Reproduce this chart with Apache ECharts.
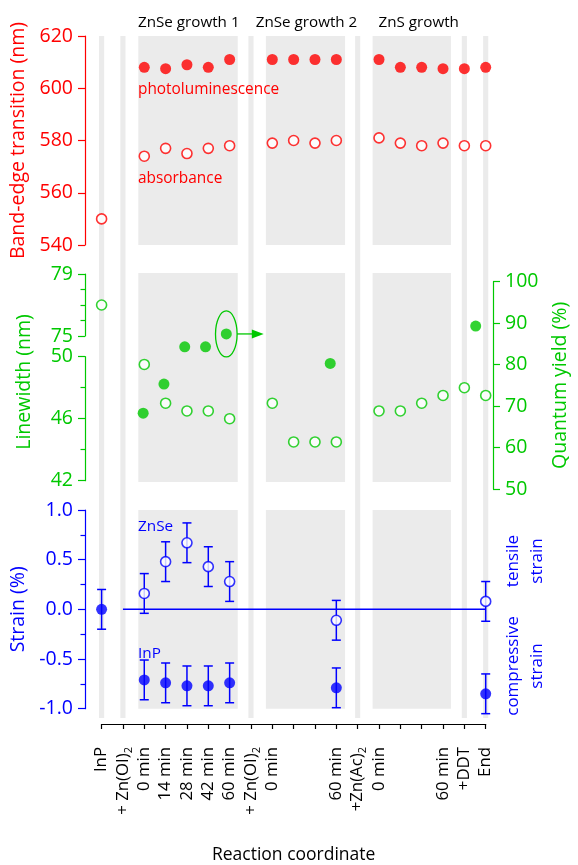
<!DOCTYPE html>
<html>
<head>
<meta charset="utf-8">
<script src="https://cdn.jsdelivr.net/npm/echarts@6/dist/echarts.min.js"></script>
<style>html,body{margin:0;padding:0;background:#fff}#c{width:578px;height:865px}</style>
</head>
<body>
<div id="c"></div>
<script>
// ---------- data ----------
const xLabels = ['InP', '+ Zn(OI){s|2}', '0 min', '14 min', '28 min', '42 min', '60 min', '+ Zn(OI){s|2}', '0 min', '', '', '60 min', '+Zn(Ac){s|2}', '0 min', '', '', '60 min', '+DDT', 'End'];
const separatorX = [0, 1, 7, 12, 17, 18];
const panelRanges = [[1.72, 6.38], [7.70, 11.41], [12.70, 16.37]];
const headers = ['ZnSe growth 1', 'ZnSe growth 2', 'ZnS growth'];

const plX = [2, 3, 4, 5, 6, 8, 9, 10, 11, 13, 14, 15, 16, 17, 18];
const plValues = [608, 607.5, 609, 608, 611, 611, 611, 611, 611, 611, 608, 608, 607.5, 607.5, 608];
const absX = [0, 2, 3, 4, 5, 6, 8, 9, 10, 11, 13, 14, 15, 16, 17, 18];
const absValues = [550, 574, 577, 575, 577, 578, 579, 580, 579, 580, 581, 579, 578, 579, 578, 578];

const lwX = [0, 2, 3, 4, 5, 6, 8, 9, 10, 11, 13, 14, 15, 16, 17, 18];
const lwValues = [77, 49.5, 47, 46.5, 46.5, 46, 47, 44.5, 44.5, 44.5, 46.5, 46.5, 47, 47.5, 48, 47.5];
const qyX = [2, 3, 4, 5, 6, 11, 18];
const qyValues = [68.3, 75.3, 84.3, 84.3, 87.4, 80.3, 89.3];
const qyHighlightIndex = 4;

const znseStrainX = [2, 3, 4, 5, 6, 11, 18];
const znseStrain = [0.16, 0.48, 0.67, 0.43, 0.28, -0.11, 0.08];
const inpStrainX = [0, 2, 3, 4, 5, 6, 11, 18];
const inpStrain = [0, -0.71, -0.74, -0.77, -0.77, -0.74, -0.79, -0.85];
const strainError = 0.2;
const zeroLineX = [1, 18];

// ---------- style ----------
const FONT = '"Open Sans", "Noto Sans", sans-serif';
const RED = '#ff0000', GREEN = '#00c800', BLUE = '#0000ff', GRAY = '#ebebeb';
const GL = 101.6, GR = 578 - 485.7;
const AX_OFF_L = GL - 85, AX_OFF_R = 503 - 485.7;
const TICK_FS = 19.5;

const zip = (xs, ys) => xs.map((x, i) => [x, ys[i]]);

const grids = [
  {top: 36, height: 682},     // 0 background separators
  {top: 36, height: 209},     // 1 band-edge
  {top: 274, height: 62},     // 2 linewidth upper
  {top: 356.7, height: 124},  // 3 linewidth lower
  {top: 281.7, height: 207.3},// 4 quantum yield
  {top: 273, height: 209},    // 5 middle background
  {top: 510, height: 208}     // 6 strain
].map(g => Object.assign({left: GL, right: GR, containLabel: false}, g));

const xAxes = grids.map((g, i) => ({
  type: 'value', gridIndex: i, min: 0, max: 18, interval: 1, show: i === 6,
  position: 'bottom', offset: i === 6 ? 15.3 : 0,
  axisLine: {show: true, onZero: false, lineStyle: {color: '#000', width: 1.2}},
  axisTick: {show: true, length: 5, lineStyle: {color: '#000', width: 1.2}},
  splitLine: {show: false},
  axisLabel: {
    show: true, rotate: 90, margin: 23, fontFamily: FONT, fontSize: 16.8, color: '#000',
    formatter: v => xLabels[Math.round(v)] || '',
    rich: {s: {fontFamily: FONT, fontSize: 11, color: '#000', verticalAlign: 'bottom', lineHeight: 22}}
  },
  name: i === 6 ? 'Reaction coordinate' : '', nameLocation: 'middle', nameGap: 122,
  nameTextStyle: {fontFamily: FONT, fontSize: 17.5, color: '#000'}
}));

function yAx(gi, opts, color) {
  return Object.assign({
    type: 'value', gridIndex: gi, position: 'left', offset: AX_OFF_L,
    axisLine: {show: true, onZero: false, lineStyle: {color: color, width: 1.2}},
    axisTick: {show: true, length: 7, lineStyle: {color: color, width: 1.2}},
    minorTick: {show: false},
    splitLine: {show: false},
    axisLabel: {margin: 12, fontFamily: FONT, fontSize: TICK_FS, color: color},
    nameTextStyle: {fontFamily: FONT, fontSize: 19.5, color: color}
  }, opts);
}
const hiddenY = gi => ({type: 'value', gridIndex: gi, min: 0, max: 1, show: false});

const yAxes = [
  hiddenY(0),
  yAx(1, {min: 540, max: 620, interval: 20, name: 'Band-edge transition (nm)', nameLocation: 'middle', nameGap: 51, nameRotate: 90}, RED),
  yAx(2, {min: 75, max: 79, interval: 4, minorTick: {show: true, splitNumber: 4, length: 4.5, lineStyle: {color: GREEN, width: 1.2}}}, GREEN),
  yAx(3, {min: 42, max: 50, interval: 4, minorTick: {show: true, splitNumber: 2, length: 4.5, lineStyle: {color: GREEN, width: 1.2}}}, GREEN),
  yAx(4, {min: 50, max: 100, interval: 10, position: 'right', offset: AX_OFF_R, name: 'Quantum yield (%)', nameLocation: 'middle', nameGap: 57, nameRotate: 90}, GREEN),
  hiddenY(5),
  yAx(6, {min: -1, max: 1, interval: 0.5, minorTick: {show: true, splitNumber: 2, length: 4.5, lineStyle: {color: BLUE, width: 1.2}},
          axisLabel: {margin: 12, fontFamily: FONT, fontSize: TICK_FS, color: BLUE, formatter: v => v.toFixed(1)},
          name: 'Strain (%)', nameLocation: 'middle', nameGap: 51, nameRotate: 90}, BLUE)
];

// background renderers
function separatorItem(params, api) {
  const x = api.value(0);
  const p0 = api.coord([x - 0.12, 1]);
  const p1 = api.coord([x + 0.12, 0]);
  return {type: 'rect', shape: {x: p0[0], y: p0[1], width: p1[0] - p0[0], height: p1[1] - p0[1]}, style: {fill: GRAY}};
}
function panelItem(params, api) {
  const cs = params.coordSys;
  const a = api.coord([api.value(0), 0]);
  const b = api.coord([api.value(1), 0]);
  return {type: 'rect', shape: {x: a[0], y: cs.y, width: b[0] - a[0], height: cs.height}, style: {fill: GRAY}};
}
const panelSeries = gi => ({
  type: 'custom', xAxisIndex: gi, yAxisIndex: gi, renderItem: panelItem, z: 0, silent: true,
  data: panelRanges.map(r => [r[0], r[1]]), encode: {x: [0, 1]}
});

function errorItem(params, api) {
  const x = api.value(0), v = api.value(1), e = api.value(2);
  const t = api.coord([x, v + e]), b = api.coord([x, v - e]);
  const w = 4.5;
  const st = {stroke: BLUE, lineWidth: 1.5};
  return {type: 'group', children: [
    {type: 'line', shape: {x1: t[0], y1: t[1], x2: b[0], y2: b[1]}, style: st},
    {type: 'line', shape: {x1: t[0] - w, y1: t[1], x2: t[0] + w, y2: t[1]}, style: st},
    {type: 'line', shape: {x1: b[0] - w, y1: b[1], x2: b[0] + w, y2: b[1]}, style: st}
  ]};
}
function highlightItem(params, api) {
  const c = api.coord([api.value(0), api.value(1)]);
  const rx = 10.8, ry = 23;
  const st = {stroke: GREEN, lineWidth: 1.3, fill: null};
  return {type: 'group', children: [
    {type: 'ellipse', shape: {cx: c[0], cy: c[1], rx: rx, ry: ry}, style: st},
    {type: 'line', shape: {x1: c[0] + rx, y1: c[1], x2: c[0] + 27, y2: c[1]}, style: st},
    {type: 'polygon', shape: {points: [[c[0] + 25.5, c[1] - 4.5], [c[0] + 37.4, c[1]], [c[0] + 25.5, c[1] + 4.5]]}, style: {fill: GREEN}}
  ]};
}

const openStyle = color => ({color: '#fff', borderColor: color, borderWidth: 1.6});

const series = [
  {type: 'custom', xAxisIndex: 0, yAxisIndex: 0, renderItem: separatorItem, z: 0, silent: true,
   data: separatorX.map(x => [x, 0]), encode: {x: 0}},
  panelSeries(1), panelSeries(5), panelSeries(6),
  // band-edge
  {type: 'scatter', xAxisIndex: 1, yAxisIndex: 1, symbol: 'circle', symbolSize: 11, z: 5,
   itemStyle: {color: RED}, data: zip(plX, plValues)},
  {type: 'scatter', xAxisIndex: 1, yAxisIndex: 1, symbol: 'circle', symbolSize: 10, z: 5,
   itemStyle: openStyle(RED), data: zip(absX, absValues)},
  // linewidth (broken axis)
  {type: 'scatter', xAxisIndex: 2, yAxisIndex: 2, symbol: 'circle', symbolSize: 10, z: 5,
   itemStyle: openStyle(GREEN), data: zip(lwX, lwValues).filter(d => d[1] >= 75)},
  {type: 'scatter', xAxisIndex: 3, yAxisIndex: 3, symbol: 'circle', symbolSize: 10, z: 5,
   itemStyle: openStyle(GREEN), data: zip(lwX, lwValues).filter(d => d[1] <= 50)},
  // quantum yield
  {type: 'scatter', xAxisIndex: 4, yAxisIndex: 4, symbol: 'circle', symbolSize: 11, z: 5,
   itemStyle: {color: GREEN}, data: zip(qyX, qyValues)},
  {type: 'custom', xAxisIndex: 4, yAxisIndex: 4, renderItem: highlightItem, z: 6, silent: true,
   data: [[qyX[qyHighlightIndex], qyValues[qyHighlightIndex]]]},
  // strain
  {type: 'line', xAxisIndex: 6, yAxisIndex: 6, showSymbol: false, symbol: 'none', z: 2,
   lineStyle: {color: BLUE, width: 1.5}, data: zeroLineX.map(x => [x, 0])},
  {type: 'custom', xAxisIndex: 6, yAxisIndex: 6, renderItem: errorItem, z: 3,
   data: zip(znseStrainX, znseStrain).map(d => [d[0], d[1], strainError])},
  {type: 'custom', xAxisIndex: 6, yAxisIndex: 6, renderItem: errorItem, z: 3,
   data: zip(inpStrainX, inpStrain).map(d => [d[0], d[1], strainError])},
  {type: 'scatter', xAxisIndex: 6, yAxisIndex: 6, symbol: 'circle', symbolSize: 10, z: 5,
   itemStyle: openStyle(BLUE), data: zip(znseStrainX, znseStrain)},
  {type: 'scatter', xAxisIndex: 6, yAxisIndex: 6, symbol: 'circle', symbolSize: 11, z: 5,
   itemStyle: {color: BLUE}, data: zip(inpStrainX, inpStrain)}
];

const txt = (x, y, text, color, size, align, rot, lh) => ({
  type: 'text', x: x, y: y, rotation: rot || 0, silent: true, z: 100, zlevel: 0,
  style: {text: text, fill: color, font: size + 'px ' + FONT, align: align || 'left', verticalAlign: 'middle', lineHeight: lh}
});

const graphic = [
  txt(188.8, 22.3, headers[0], '#000', 15.2, 'center'),
  txt(306.5, 22.3, headers[1], '#000', 15.2, 'center'),
  txt(418.7, 22.3, headers[2], '#000', 15.2, 'center'),
  txt(138, 89.3, 'photoluminescence', RED, 15.4),
  txt(138, 178.3, 'absorbance', RED, 15.4),
  txt(138, 526.7, 'ZnSe', BLUE, 15.3),
  txt(138, 653.3, 'InP', BLUE, 15.3),
  txt(24, 382, 'Linewidth (nm)', GREEN, 19.5, 'center', Math.PI / 2),
  txt(525, 561, 'tensile\nstrain', BLUE, 17, 'center', Math.PI / 2, 23.4),
  txt(525, 666, 'compressive\nstrain', BLUE, 17, 'center', Math.PI / 2, 23.4)
];

const chart = echarts.init(document.getElementById('c'), null, {renderer: 'canvas'});
chart.setOption({
  animation: false,
  backgroundColor: '#fff',
  textStyle: {fontFamily: FONT},
  grid: grids, xAxis: xAxes, yAxis: yAxes, series: series, graphic: graphic
});
</script>
</body>
</html>
